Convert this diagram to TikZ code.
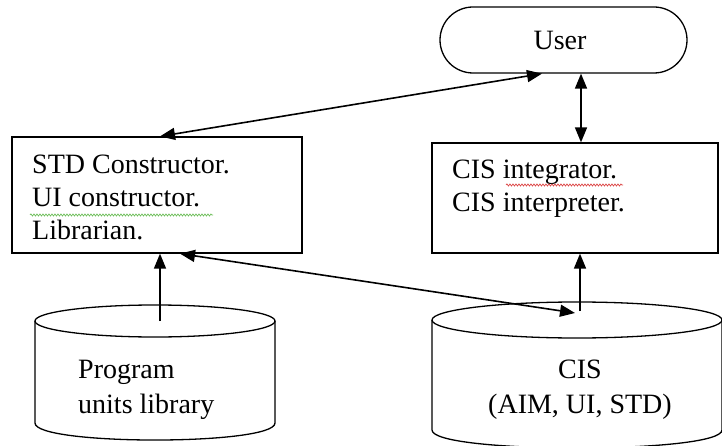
\documentclass[tikz,border=0pt]{standalone}
\usepackage{fontspec}
\setmainfont{Liberation Serif}
\usetikzlibrary{arrows.meta,calc,decorations.pathmorphing}

\begin{document}
\begin{tikzpicture}[x=1pt,y=-1pt,
  box/.style={draw, line width=1.3pt, inner sep=0pt, fill=white},
  label/.style={inner sep=0pt, font=\fontsize{28}{33}\selectfont},
  tank/.style={draw, line width=1.3pt},
  link/.style={line width=1.6pt, {Triangle[length=15pt,width=12pt]}-{Triangle[length=15pt,width=12pt]}},
  feed/.style={line width=1.6pt, -{Triangle[length=15pt,width=12pt]}},
  squiggle/.style={line width=0.7pt, decorate,
    decoration={snake, amplitude=1pt, segment length=3pt}}]

\useasboundingbox (0,0) rectangle (722,446);

% user terminal
\node[box, rounded corners=33pt, minimum width=247pt, minimum height=66pt] (user) at (563.5,40) {};
\node[label, anchor=base] (usertxt) at (560,50) {User};

% tool boxes
\node[box, minimum width=290pt, minimum height=116pt] (std) at (157,195) {};
\node[label, anchor=base west] (std1) at (32,174) {STD Constructor.};
\node[label, anchor=base west] (std2) at (32,207) {UI constructor.};
\node[label, anchor=base west] (std3) at (32,240) {Librarian.};

\node[box, minimum width=286pt, minimum height=110pt] (cisbox) at (575,198) {};
\node[label, anchor=base west] (cis1) at (452,179) {CIS integrator.};
\node[label, anchor=base west] (cis2) at (452,212) {CIS interpreter.};

% spelling marks
\draw[squiggle, draw={rgb,255:red,110;green,190;blue,90}] (30,215) -- (213,215);
\draw[squiggle, draw={rgb,255:red,220;green,70;blue,70}] (506,185) -- (623,185);

% program units library store
\draw[tank, fill=white] (35,321) -- (35,423)
  .. controls (35,445.7) and (275,445.7) .. (275,423) -- (275,321);
\draw[tank] (155,321) ellipse [x radius=120, y radius=16];
\node[label, anchor=base west] (lib1) at (78,378) {Program};
\node[label, anchor=base west] (lib2) at (78,413) {units library};
\coordinate (libtop) at (160,321);

% CIS store
\draw[tank, fill=white] (432,320) -- (432,430)
  .. controls (432,454) and (722,454) .. (722,430) -- (722,320);
\draw[tank] (577,320) ellipse [x radius=145, y radius=18];
\node[label, anchor=base] (store1) at (580,378) {CIS};
\node[label, anchor=base] (store2) at (580,413) {(AIM, UI, STD)};
\coordinate (cistop) at (580,311);
\coordinate (cisin) at (575,313);

% connectors
\draw[link] ([xshift=3pt]std.north) -- ([xshift=-21.5pt]user.south);
\draw[link] ([xshift=17.5pt]user.south) -- ([xshift=6pt]cisbox.north);
\draw[feed] (libtop) -- ([xshift=3pt]std.south);
\draw[link] ([xshift=23pt]std.south) -- (cisin);
\draw[feed] (cistop) -- ([xshift=5pt]cisbox.south);
\end{tikzpicture}
\end{document}
